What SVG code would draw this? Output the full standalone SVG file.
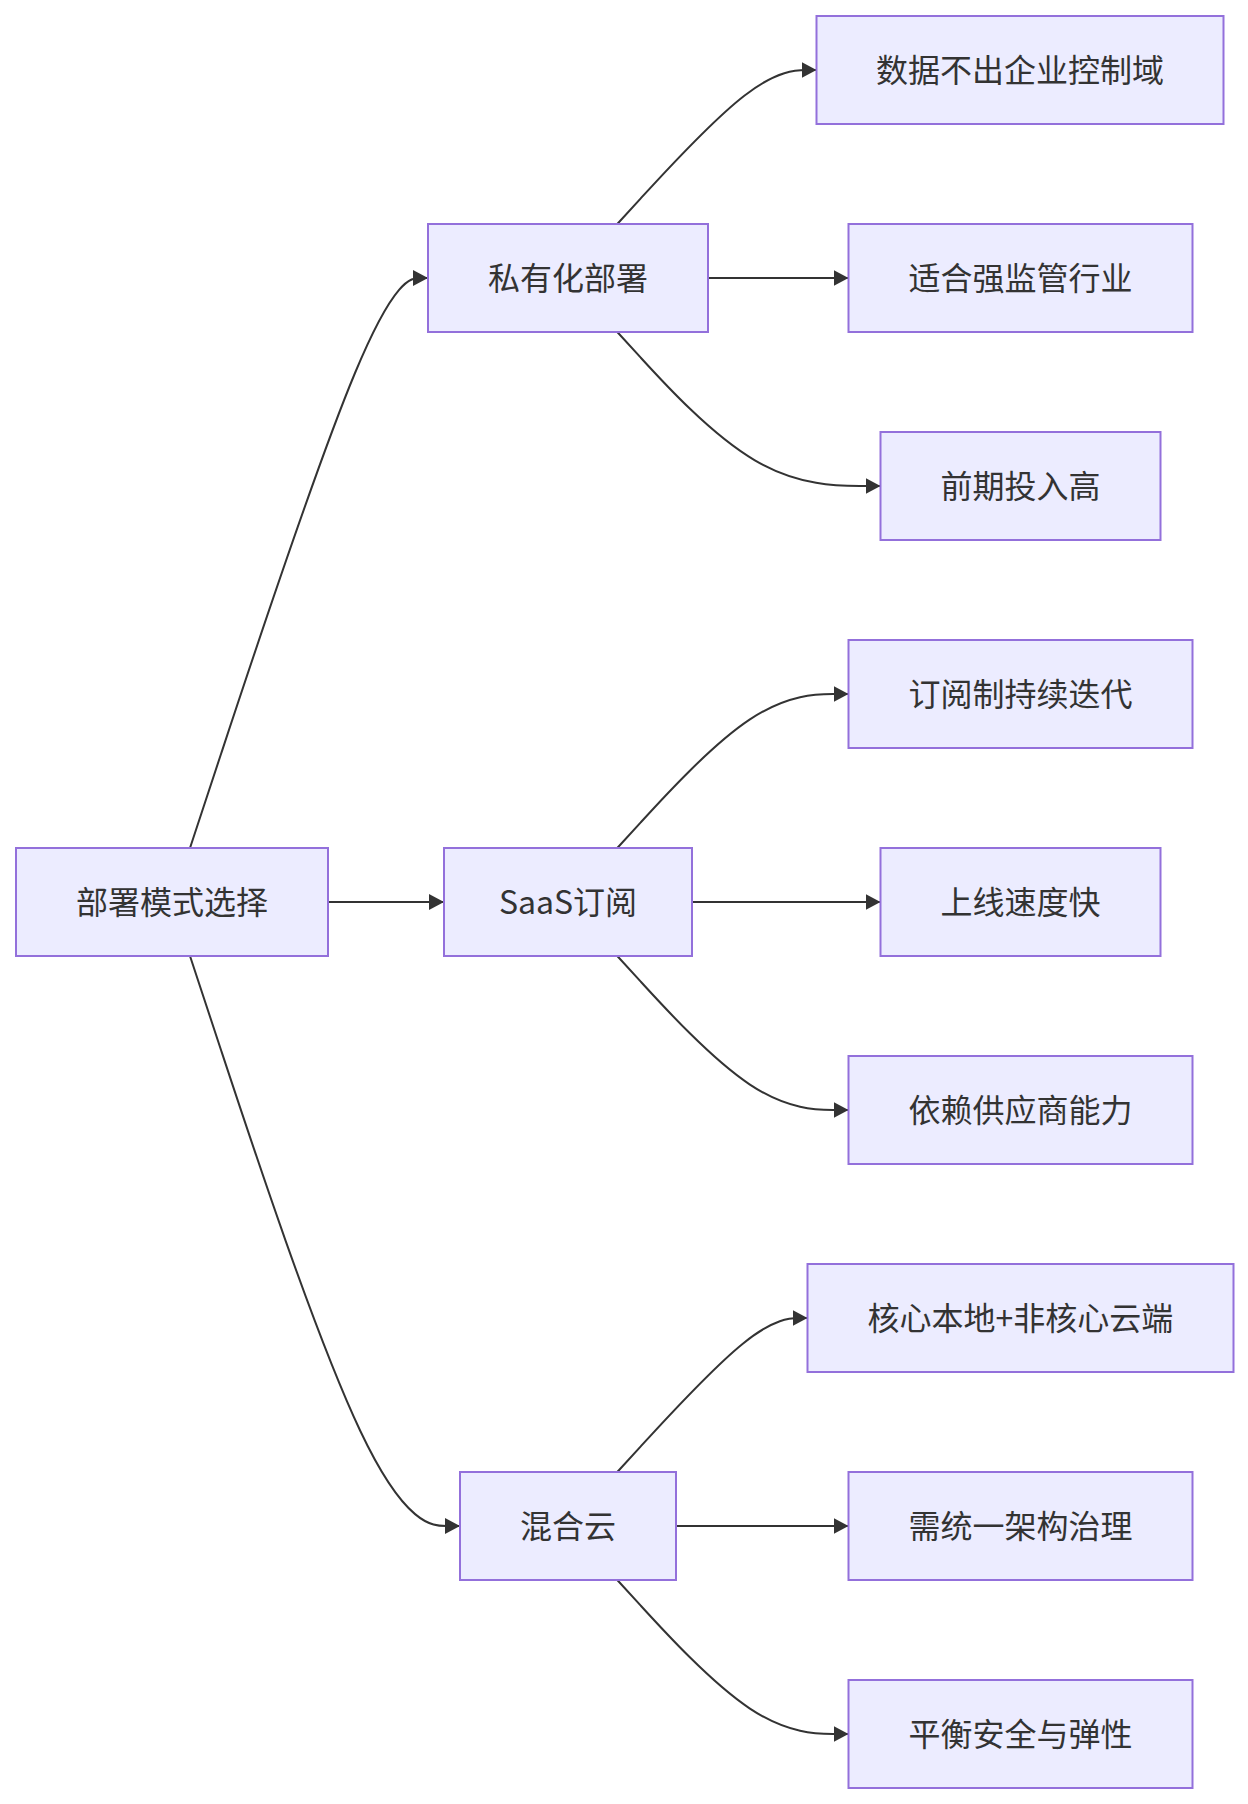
<svg xmlns="http://www.w3.org/2000/svg" width="1248" height="1804" viewBox="0 0 1248 1804">
<style>
.node rect{fill:#ECECFF;stroke:#9370DB;stroke-width:2}
.node text{font-family:"Noto Sans CJK SC","Noto Sans",sans-serif;font-size:32px;fill:#333;text-anchor:middle}
.edges path{fill:none;stroke:#333;stroke-width:2;marker-end:url(#arrow)}
</style>
<defs>
<marker id="arrow" viewBox="0 0 15 16" refX="15" refY="8" markerWidth="15" markerHeight="16" markerUnits="userSpaceOnUse" orient="auto">
<path d="M0,0 L15,8 L0,16 z" fill="#333"/>
</marker>
</defs>
<rect width="1248" height="1804" fill="#fff"/>
<g class="edges">
<path d="M190,848 L221.33,753 C252.67,658 315.33,468 355,373 C394.67,278 411.33,278 419.67,278 L428,278"/>
<path d="M328,902 L444,902"/>
<path d="M190,956 L221.33,1051 C252.67,1146 315.33,1336 360.33,1431 C405.33,1526 432.67,1526 446.33,1526 L460,1526"/>
<path d="M617.3,224 L640.75,198.33 C664.2,172.67 711.1,121.33 744.3,95.67 C777.5,70 797,70 806.75,70 L816.5,70"/>
<path d="M708,278 L848.5,278"/>
<path d="M617.3,332 L640.75,357.67 C664.2,383.33 711.1,434.67 754.88,460.33 C798.67,486 839.33,486 859.67,486 L880.5,486"/>
<path d="M617.3,848 L640.75,822.33 C664.2,796.67 711.1,745.33 749.55,719.67 C788,694 818,694 833,694 L848.5,694"/>
<path d="M692,902 L880.5,902"/>
<path d="M617.3,956 L640.75,981.67 C664.2,1007.33 711.1,1058.67 749.55,1084.33 C788,1110 818,1110 833,1110 L848.5,1110"/>
<path d="M617.3,1472 L640.75,1446.33 C664.2,1420.67 711.1,1369.33 742.8,1343.67 C774.5,1318 791,1318 799.25,1318 L807.5,1318"/>
<path d="M676,1526 L848.5,1526"/>
<path d="M617.3,1580 L640.75,1605.67 C664.2,1631.33 711.1,1682.67 749.55,1708.33 C788,1734 818,1734 833,1734 L848.5,1734"/>
</g>
<g class="node" id="root"><rect x="16" y="848" width="312" height="108"/><text x="172" y="914">部署模式选择</text></g>
<g class="node" id="private"><rect x="428" y="224" width="280" height="108"/><text x="568" y="290">私有化部署</text></g>
<g class="node" id="saas"><rect x="444" y="848" width="248" height="108"/><text x="568" y="914">SaaS订阅</text></g>
<g class="node" id="hybrid"><rect x="460" y="1472" width="216" height="108"/><text x="568" y="1538">混合云</text></g>
<g class="node" id="p1"><rect x="816.5" y="16" width="407" height="108"/><text x="1020" y="82">数据不出企业控制域</text></g>
<g class="node" id="p2"><rect x="848.5" y="224" width="344" height="108"/><text x="1020.5" y="290">适合强监管行业</text></g>
<g class="node" id="p3"><rect x="880.5" y="432" width="280" height="108"/><text x="1020.5" y="498">前期投入高</text></g>
<g class="node" id="s1"><rect x="848.5" y="640" width="344" height="108"/><text x="1020.5" y="706">订阅制持续迭代</text></g>
<g class="node" id="s2"><rect x="880.5" y="848" width="280" height="108"/><text x="1020.5" y="914">上线速度快</text></g>
<g class="node" id="s3"><rect x="848.5" y="1056" width="344" height="108"/><text x="1020.5" y="1122">依赖供应商能力</text></g>
<g class="node" id="h1"><rect x="807.5" y="1264" width="426" height="108"/><text x="1020.5" y="1330">核心本地+非核心云端</text></g>
<g class="node" id="h2"><rect x="848.5" y="1472" width="344" height="108"/><text x="1020.5" y="1538">需统一架构治理</text></g>
<g class="node" id="h3"><rect x="848.5" y="1680" width="344" height="108"/><text x="1020.5" y="1746">平衡安全与弹性</text></g>
</svg>
